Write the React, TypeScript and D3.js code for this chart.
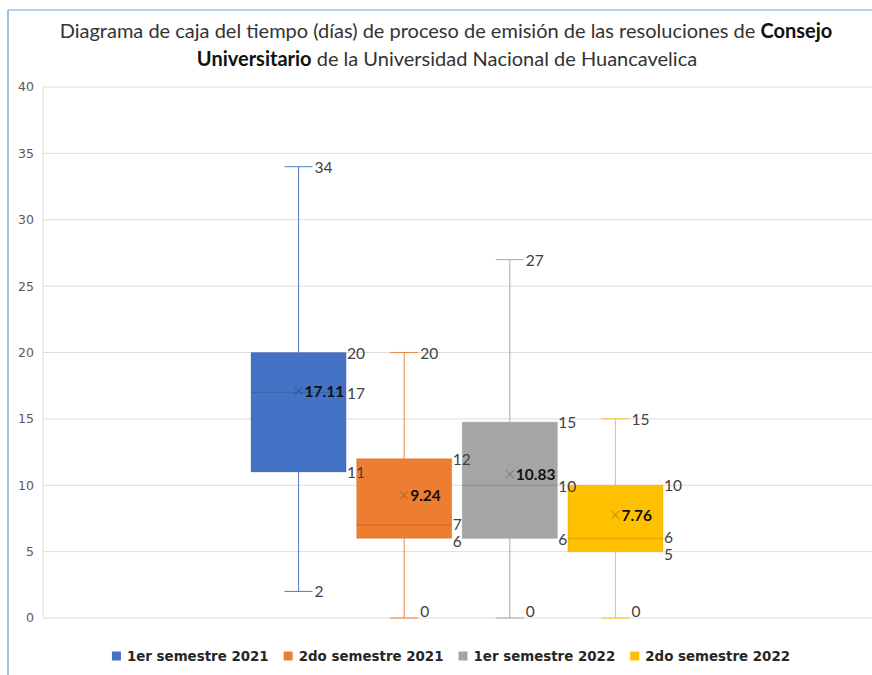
import React, { useMemo } from 'react';
import * as d3 from 'd3';

const seriesNames = ['1er semestre 2021', '2do semestre 2021', '1er semestre 2022', '2do semestre 2022'];
const seriesColors = ['#4472C4', '#ED7D31', '#A5A5A5', '#FFC000'];
const minVals = [2, 0, 0, 0];
const q1Vals = [11, 6, 6, 5];
const medianVals = [17, 7, 10, 6];
const q3Vals = [20, 12, 14.75, 10];
const maxVals = [34, 20, 27, 15];
const meanVals = [17.11, 9.24, 10.83, 7.76];
const yTicks = [0, 5, 10, 15, 20, 25, 30, 35, 40];

const W = 872;
const H = 675;

function measure(text: string, font: string) {
  if (typeof document === 'undefined') return text.length * 8;
  const c = document.createElement('canvas');
  const ctx = c.getContext('2d')!;
  ctx.font = font;
  return ctx.measureText(text).width;
}

export default function App() {
  const y = d3.scaleLinear().domain([0, 40]).range([618, 87]);
  const x = d3.scaleBand<string>().domain(seriesNames).range([251, 663]).paddingInner(0.1).paddingOuter(0);
  const bw = x.bandwidth();
  const capW = 28;
  const fmt = d3.format('.0f');
  const labelFont = 'Lato, sans-serif';
  const labelColor = '#404040';

  const legendFont = 'bold 13.4px "DejaVu Sans"';
  const legendItems = useMemo(() => {
    const widths = seriesNames.map((s) => measure(s, legendFont));
    const sw = 9, gap1 = 6, gap2 = 15;
    const total = widths.reduce((a, w) => a + sw + gap1 + w, 0) + gap2 * (seriesNames.length - 1);
    let cx = 451 - total / 2;
    return seriesNames.map((s, i) => {
      const item = { s, i, x: cx };
      cx += sw + gap1 + widths[i] + gap2;
      return item;
    });
  }, []);

  const labelY = (v: number) => Math.min(y(v), 611);
  const minSep = 17;
  const spread = (a: number, b: number) => {
    // a above (smaller y), b below
    if (b - a >= minSep) return [a, b];
    const m = (a + b) / 2;
    return [m - minSep / 2, m + minSep / 2];
  };

  return (
    <svg width={W} height={H} style={{ position: 'absolute', left: 0, top: 0, background: '#fff' }}>
      <rect x={0} y={0} width={W} height={H} fill="#fff" />
      {/* outer border (partially cropped) */}
      <line x1={8} y1={10} x2={W} y2={10} stroke="#9CC0E6" strokeWidth={1.5} />
      <line x1={8} y1={10} x2={8} y2={H} stroke="#9CC0E6" strokeWidth={2} />

      {/* title */}
      <g fontFamily="Lato, sans-serif" fontSize={20} fill="#333" textAnchor="middle">
        <text x={446} y={38}>
          <tspan>Diagrama de caja del tiempo (días) de proceso de emisión de las resoluciones de </tspan>
          <tspan fontWeight="bold" fill="#111">Consejo</tspan>
        </text>
        <text x={447} y={66}>
          <tspan fontWeight="bold" fill="#111">Universitario</tspan>
          <tspan> de la Universidad Nacional de Huancavelica</tspan>
        </text>
      </g>

      {/* gridlines */}
      <g>
        {yTicks.map((t) => (
          <line key={t} x1={43} x2={W} y1={y(t)} y2={y(t)} stroke="#DCDCDC" strokeWidth={1} />
        ))}
        <line x1={43} x2={43} y1={y(40)} y2={y(0)} stroke="#DCDCDC" strokeWidth={1} />
      </g>
      {/* y tick labels */}
      <g fontFamily="'DejaVu Sans', sans-serif" fontSize={12.5} fill="#595959" textAnchor="end">
        {yTicks.map((t) => (
          <text key={t} x={34} y={y(t)} dy="0.35em">{t}</text>
        ))}
      </g>

      {/* boxes */}
      {seriesNames.map((s, i) => {
        const c = seriesColors[i];
        const x0 = x(s)!;
        const cx = x0 + bw / 2;
        const dark = d3.color(c)!.darker(0.8).formatHex();
        return (
          <g key={s}>
            <g stroke={c} strokeWidth={1.1} strokeOpacity={0.85}>
              <line x1={cx} x2={cx} y1={y(q3Vals[i])} y2={y(maxVals[i])} />
              <line x1={cx} x2={cx} y1={y(q1Vals[i])} y2={y(minVals[i])} />
              <line x1={cx - capW / 2} x2={cx + capW / 2} y1={y(maxVals[i])} y2={y(maxVals[i])} />
              <line x1={cx - capW / 2} x2={cx + capW / 2} y1={y(minVals[i])} y2={y(minVals[i])} />
            </g>
            <rect x={x0} y={y(q3Vals[i])} width={bw} height={y(q1Vals[i]) - y(q3Vals[i])} fill={c} stroke={dark} strokeOpacity={0.25} strokeWidth={1} />
            <line x1={x0} x2={x0 + bw} y1={y(medianVals[i])} y2={y(medianVals[i])} stroke={dark} strokeOpacity={0.6} strokeWidth={1} />
            {/* mean marker */}
            <g stroke={d3.color(c)!.darker(1.3).formatHex()} strokeOpacity={0.45} strokeWidth={1.2}>
              <line x1={cx - 4} x2={cx + 4} y1={y(meanVals[i]) - 4} y2={y(meanVals[i]) + 4} />
              <line x1={cx - 4} x2={cx + 4} y1={y(meanVals[i]) + 4} y2={y(meanVals[i]) - 4} />
            </g>
          </g>
        );
      })}

      {/* labels */}
      {seriesNames.map((s, i) => {
        const x0 = x(s)!;
        const cx = x0 + bw / 2;
        const rx = x0 + bw + 1;
        const wx = cx + capW / 2 + 2;
        const [medY, q1Y] = spread(labelY(medianVals[i]), labelY(q1Vals[i]));
        return (
          <g key={s + 'l'} fontFamily={labelFont} fontSize={15.5} fill={labelColor}>
            <text x={wx} y={labelY(maxVals[i])} dominantBaseline="central">{fmt(maxVals[i])}</text>
            <text x={rx} y={labelY(q3Vals[i])} dominantBaseline="central">{fmt(q3Vals[i])}</text>
            <text x={rx} y={medY + 0.5} dominantBaseline="central">{fmt(medianVals[i])}</text>
            <text x={rx} y={q1Y + 0.5} dominantBaseline="central">{fmt(q1Vals[i])}</text>
            <text x={wx} y={labelY(minVals[i])} dominantBaseline="central">{fmt(minVals[i])}</text>
            <text x={cx + 6} y={y(meanVals[i])} dominantBaseline="central" fontWeight="bold" fill="#111">{d3.format('.2f')(meanVals[i])}</text>
          </g>
        );
      })}

      {/* legend */}
      <g>
        {legendItems.map((it) => (
          <g key={it.s}>
            <rect x={it.x} y={651.5} width={9} height={9} fill={seriesColors[it.i]} />
            <text x={it.x + 15} y={661} fontFamily="'DejaVu Sans', sans-serif" fontWeight="bold" fontSize={13.4} fill="#262626">{it.s}</text>
          </g>
        ))}
      </g>
    </svg>
  );
}
